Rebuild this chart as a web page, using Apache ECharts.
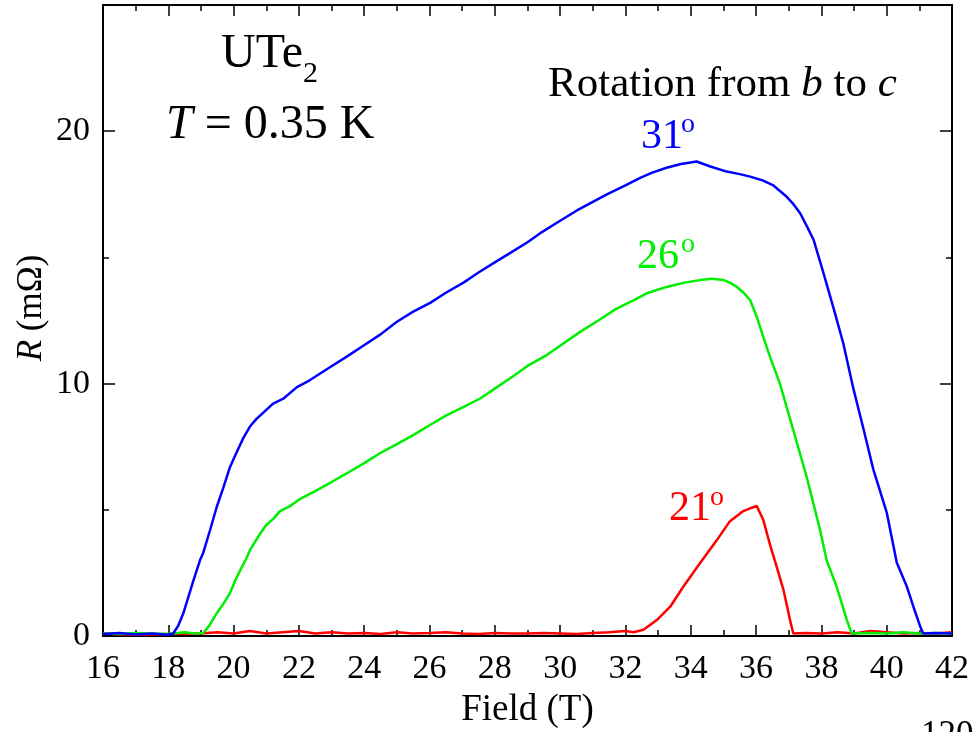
<!DOCTYPE html>
<html>
<head>
<meta charset="utf-8">
<script src="https://cdn.jsdelivr.net/npm/echarts@6/dist/echarts.min.js"></script>
<style>
  html, body { margin: 0; padding: 0; background: #fff; }
  #chart { width: 974px; height: 732px; }
</style>
</head>
<body>
<div id="chart"></div>
<script>
// field (T) and resistance (mOhm)
var field31 = [16.0, 16.5, 17.0, 17.5, 18.0, 18.15, 18.3, 18.46, 18.77, 18.97, 19.07, 19.28, 19.48, 19.69, 19.89, 20.1, 20.3, 20.5, 20.7, 20.91, 21.2, 21.52, 21.93, 22.34, 22.95, 23.5, 23.97, 24.5, 25.0, 25.5, 26.02, 26.5, 27.04, 27.5, 28.06, 28.5, 29.0, 29.38, 30.0, 30.5, 31.0, 31.43, 32.0, 32.45, 32.8, 33.26, 33.7, 34.18, 34.6, 35.1, 35.5, 35.82, 36.2, 36.53, 36.94, 37.15, 37.35, 37.55, 37.76, 38.06, 38.37, 38.67, 38.98, 39.29, 39.59, 40.0, 40.31, 40.62, 40.82, 41.02, 41.12, 41.5, 42.0]
var r31 = [0.08, 0.12, 0.06, 0.1, 0.05, 0.1, 0.4, 0.9, 2.2, 3.0, 3.3, 4.2, 5.1, 5.9, 6.7, 7.3, 7.85, 8.3, 8.6, 8.85, 9.2, 9.4, 9.85, 10.14, 10.65, 11.1, 11.5, 11.95, 12.45, 12.85, 13.2, 13.6, 14.0, 14.4, 14.85, 15.2, 15.6, 15.95, 16.45, 16.85, 17.2, 17.5, 17.85, 18.15, 18.35, 18.55, 18.7, 18.8, 18.6, 18.4, 18.3, 18.2, 18.05, 17.85, 17.4, 17.1, 16.75, 16.25, 15.7, 14.4, 13.0, 11.6, 9.8, 8.2, 6.6, 4.9, 2.9, 1.95, 1.15, 0.4, 0.1, 0.12, 0.1]

var field26 = [16.0, 16.5, 17.0, 17.5, 18.0, 18.5, 18.8, 19.07, 19.25, 19.48, 19.7, 19.89, 20.05, 20.2, 20.4, 20.5, 20.81, 21.0, 21.22, 21.42, 21.73, 22.0, 22.44, 23.0, 23.46, 24.0, 24.48, 25.0, 25.5, 26.0, 26.53, 27.0, 27.55, 28.0, 28.57, 29.0, 29.59, 30.0, 30.61, 31.17, 31.7, 32.24, 32.7, 33.26, 33.8, 34.28, 34.65, 35.0, 35.2, 35.41, 35.62, 35.82, 36.02, 36.22, 36.43, 36.73, 37.14, 37.55, 37.96, 38.16, 38.47, 38.78, 38.93, 39.5, 40.0, 40.5, 41.0, 41.5, 42.0]
var r26 = [0.1, 0.08, 0.12, 0.1, 0.08, 0.15, 0.1, 0.12, 0.4, 0.9, 1.3, 1.7, 2.2, 2.6, 3.1, 3.4, 4.05, 4.4, 4.65, 4.95, 5.15, 5.4, 5.7, 6.1, 6.44, 6.85, 7.24, 7.6, 7.96, 8.35, 8.75, 9.05, 9.41, 9.8, 10.3, 10.7, 11.13, 11.5, 12.05, 12.5, 12.95, 13.3, 13.6, 13.83, 14.0, 14.1, 14.15, 14.1, 14.0, 13.83, 13.6, 13.3, 12.65, 11.85, 11.05, 10.0, 8.16, 6.3, 4.2, 3.0, 1.95, 0.63, 0.1, 0.12, 0.1, 0.15, 0.1, 0.12, 0.1]

var field21 = [16.0, 17.0, 18.0, 19.0, 19.5, 20.0, 20.5, 21.0, 21.5, 22.0, 22.5, 23.0, 23.5, 24.0, 24.5, 25.0, 25.5, 26.0, 26.5, 27.0, 27.5, 28.0, 28.5, 29.0, 29.5, 30.0, 30.5, 31.0, 31.5, 32.0, 32.25, 32.55, 32.96, 33.37, 33.77, 34.28, 34.8, 35.2, 35.61, 35.8, 36.02, 36.22, 36.43, 36.63, 36.84, 37.04, 37.14, 37.5, 38.0, 38.5, 39.0, 39.5, 40.0, 40.5, 41.0, 41.5, 42.0]
var r21 = [0.1, 0.05, 0.08, 0.1, 0.15, 0.1, 0.2, 0.1, 0.15, 0.2, 0.1, 0.15, 0.1, 0.12, 0.08, 0.15, 0.1, 0.12, 0.15, 0.1, 0.08, 0.12, 0.1, 0.1, 0.12, 0.1, 0.08, 0.12, 0.15, 0.2, 0.15, 0.25, 0.63, 1.16, 1.95, 2.88, 3.8, 4.55, 4.95, 5.05, 5.15, 4.6, 3.6, 2.75, 1.82, 0.63, 0.1, 0.12, 0.1, 0.15, 0.1, 0.2, 0.15, 0.1, 0.12, 0.1, 0.15]

var xTicks = [16, 42, 2]
var yMajor = [0, 10, 20]
var yMinor = [5, 15]

function pairs (xs, ys) {
  return xs.map(function (x, i) { return [x, ys[i]] })
}

var font = 'Liberation Serif'
var chart = echarts.init(document.getElementById('chart'))

function xAx (pos, labels) {
  return {
    type: 'value',
    position: pos,
    min: xTicks[0],
    max: xTicks[1],
    interval: xTicks[2],
    axisLine: { show: true, onZero: false, lineStyle: { color: '#000', width: 2 } },
    axisTick: { inside: true, length: 11, lineStyle: { color: '#000', width: 1.5 } },
    minorTick: { show: true, splitNumber: 2, length: 6, lineStyle: { color: '#000', width: 1.5 } },
    axisLabel: { show: labels, color: '#000', fontSize: 34, fontFamily: font, margin: 16 },
    splitLine: { show: false },
    name: labels ? 'Field (T)' : '',
    nameLocation: 'middle',
    nameGap: 56,
    nameTextStyle: { color: '#000', fontSize: 37, fontFamily: font }
  }
}

function yAx (pos, ticks, len, line, labels) {
  return {
    type: 'value',
    position: pos,
    min: 0,
    max: 25,
    axisLine: { show: line, onZero: false, lineStyle: { color: '#000', width: 2 } },
    axisTick: { inside: true, length: len, customValues: ticks, lineStyle: { color: '#000', width: 1.5 } },
    axisLabel: { show: labels, customValues: yMajor, color: '#000', fontSize: 34, fontFamily: font, margin: 13 },
    splitLine: { show: false }
  }
}

function line (name, data, color) {
  return {
    name: name,
    type: 'line',
    data: data,
    xAxisIndex: 0,
    yAxisIndex: 0,
    showSymbol: false,
    silent: true,
    lineStyle: { color: color, width: 2.5 }
  }
}

function txt (s, x, y, size, color, rich) {
  return {
    type: 'text',
    x: x,
    y: y,
    silent: true,
    style: {
      text: s,
      fill: color || '#000',
      fontSize: size,
      fontFamily: font,
      align: 'left',
      verticalAlign: 'middle',
      rich: rich
    }
  }
}

var italic = function (size) {
  return { i: { fontStyle: 'italic', fontSize: size, fontFamily: font, fill: '#000' } }
}

var option = {
  animation: false,
  backgroundColor: '#fff',
  grid: { left: 103, right: 22, top: 5, bottom: 96, outerBoundsMode: 'none', containLabel: false },
  xAxis: [xAx('bottom', true), xAx('top', false)],
  yAxis: [
    yAx('left', yMajor, 12, true, true),
    yAx('left', yMinor, 6, false, false),
    yAx('right', yMajor, 12, true, false),
    yAx('right', yMinor, 6, false, false)
  ],
  series: [
    line('21°', pairs(field21, r21), '#ff0000'),
    line('26°', pairs(field26, r26), '#00ee00'),
    line('31°', pairs(field31, r31), '#0000ff')
  ],
  graphic: [
    txt('UTe', 221, 54, 48),
    txt('2', 303, 74, 30),
    txt('{i|T} = 0.35 K', 166, 125, 48, '#000', italic(48)),
    txt('Rotation from {i|b} to {i|c}', 548, 85, 43, '#000', italic(43)),
    txt('31', 641, 137, 42, '#0000ff'),
    txt('o', 681, 125, 28, '#0000ff'),
    txt('26', 637, 257, 42, '#00ee00'),
    txt('o', 681, 245, 28, '#00ee00'),
    txt('21', 669, 509, 42, '#ff0000'),
    txt('o', 710, 498, 28, '#ff0000'),
    {
      type: 'text',
      x: 32,
      y: 308,
      rotation: Math.PI / 2,
      silent: true,
      style: {
        text: '{i|R} (mΩ)',
        fill: '#000',
        fontSize: 35,
        fontFamily: font,
        align: 'center',
        verticalAlign: 'middle',
        rich: italic(35)
      }
    },
    txt('120', 921, 736, 35)
  ]
}
chart.setOption(option)
</script>
</body>
</html>
